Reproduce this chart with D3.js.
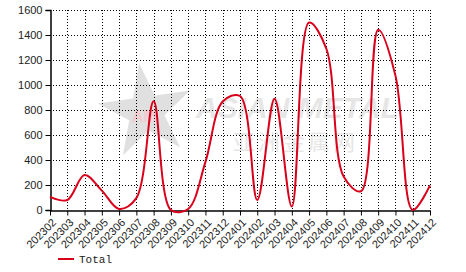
<!DOCTYPE html>
<html>
<head>
<meta charset="utf-8">
<script src="https://cdn.jsdelivr.net/npm/d3@7"></script>
<style>
  body { margin: 0; background: #fff; }
  svg { display: block; }
  .grid line { stroke: #000; stroke-dasharray: 1,2; }
  .axis text { font-family: Arial, "Liberation Sans", sans-serif; font-size: 11px; fill: #222; }
</style>
</head>
<body>
<svg id="chart" width="466" height="272"></svg>
<script>
const months = ["202302","202303","202304","202305","202306","202307","202308","202309",
  "202310","202311","202312","202401","202402","202403","202404","202405","202406",
  "202407","202408","202409","202410","202411","202412"]
const totals = [105, 80, 280, 155, 8, 95, 870, 0, 8, 385, 868, 912, 80, 890, 28, 1500,
  1290, 268, 150, 1442, 1075, 0, 197]
const yTicks = [0, 200, 400, 600, 800, 1000, 1200, 1400, 1600]

const margin = { top: 10, right: 36, bottom: 62, left: 50 }
const width = 466, height = 272
const svg = d3.select("#chart")

const x = d3.scalePoint().domain(months).range([margin.left, width - margin.right])
const y = d3.scaleLinear().domain([0, 1600]).range([height - margin.bottom, margin.top])

// watermark (logo + name)
const wm = svg.append("g")
wm.append("path")
  .attr("d", d3.symbol(d3.symbolStar, 2700)())
  .attr("transform", "translate(146,112) rotate(-8)")
  .attr("fill", "#e0e0e0")
wm.append("text").attr("x", 132).attr("y", 122)
  .attr("font-family", "Arial, sans-serif").attr("font-size", 16).attr("font-weight", "bold")
  .attr("fill", "#f6c9cf").text("AM")
wm.append("text").attr("x", 196).attr("y", 118)
  .attr("font-family", "Arial, sans-serif").attr("font-size", 30).attr("font-style", "italic")
  .attr("font-weight", "bold").attr("fill", "#e6e6e6").text("ASIAN METAL")
wm.append("text").attr("x", 233).attr("y", 150)
  .attr("font-family", "'Noto Sans CJK SC', sans-serif").attr("font-size", 22)
  .attr("letter-spacing", 3).attr("fill", "#e6e6e6").text("亚洲金属网")

// gridlines
const grid = svg.append("g").attr("class", "grid")
grid.selectAll(".h").data(yTicks.slice(1)).enter().append("line")
  .attr("x1", margin.left).attr("x2", width - margin.right)
  .attr("y1", d => y(d) + 0.5).attr("y2", d => y(d) + 0.5)
grid.selectAll(".v").data(months.slice(1)).enter().append("line")
  .attr("x1", d => Math.round(x(d)) + 0.5).attr("x2", d => Math.round(x(d)) + 0.5)
  .attr("y1", margin.top).attr("y2", height - margin.bottom)

// axes
const yAxis = svg.append("g").attr("class", "axis")
  .attr("transform", `translate(${margin.left + 0.5},0)`)
  .call(d3.axisLeft(y).tickValues(yTicks).tickFormat(d3.format("d")).tickSize(5).tickPadding(3))
yAxis.selectAll("text").attr("dy", "0.35em")

const xAxis = svg.append("g").attr("class", "axis")
  .attr("transform", `translate(0,${height - margin.bottom + 0.5})`)
  .call(d3.axisBottom(x).tickSize(5).tickSizeOuter(0))
xAxis.selectAll("text")
  .attr("text-anchor", "end")
  .attr("transform", "rotate(-45)")
  .attr("dx", "-0.4em").attr("dy", "0.5em")
svg.selectAll(".axis path, .axis line").attr("stroke", "#000")
svg.selectAll(".axis path").attr("stroke-width", 1.5)

// line
const line = d3.line()
  .x((d, i) => x(months[i]))
  .y(d => y(d))
  .curve(d3.curveCatmullRom.alpha(0.5))
svg.append("path").datum(totals)
  .attr("fill", "none").attr("stroke", "#d9001b").attr("stroke-width", 2)
  .attr("d", line)

// legend
const legend = svg.append("g").attr("transform", "translate(58,259)")
legend.append("line").attr("x1", 0).attr("x2", 16).attr("stroke", "#d9001b").attr("stroke-width", 2)
legend.append("text").attr("x", 21).attr("y", 4)
  .attr("font-family", "'Liberation Mono', monospace").attr("font-size", 11)
  .attr("fill", "#222").text("Total")
</script>
</body>
</html>
